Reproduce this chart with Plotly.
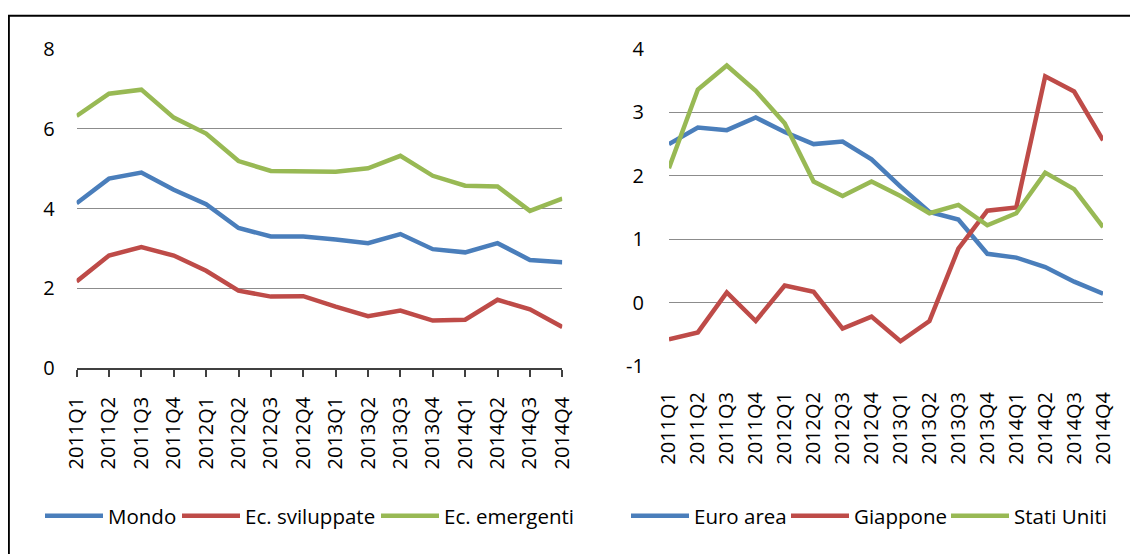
import plotly.graph_objects as go

quarters = ["2011Q1", "2011Q2", "2011Q3", "2011Q4", "2012Q1", "2012Q2", "2012Q3", "2012Q4",
            "2013Q1", "2013Q2", "2013Q3", "2013Q4", "2014Q1", "2014Q2", "2014Q3", "2014Q4"]

# Left panel
mondo = [4.13, 4.75, 4.90, 4.47, 4.11, 3.51, 3.30, 3.30, 3.22, 3.13, 3.36, 2.98, 2.90, 3.13, 2.71, 2.65]
ec_sviluppate = [2.17, 2.82, 3.03, 2.82, 2.44, 1.94, 1.79, 1.80, 1.54, 1.30, 1.44, 1.19, 1.21, 1.71, 1.47, 1.03]
ec_emergenti = [6.32, 6.88, 6.98, 6.28, 5.88, 5.19, 4.94, 4.94, 4.92, 5.01, 5.32, 4.82, 4.57, 4.55, 3.94, 4.25]

# Right panel
euro_area = [2.50, 2.76, 2.72, 2.92, 2.69, 2.50, 2.54, 2.26, 1.83, 1.43, 1.31, 0.77, 0.71, 0.56, 0.33, 0.14]
giappone = [-0.58, -0.47, 0.16, -0.29, 0.27, 0.17, -0.41, -0.22, -0.61, -0.29, 0.85, 1.45, 1.50, 3.57, 3.33, 2.56]
stati_uniti = [2.12, 3.36, 3.74, 3.34, 2.83, 1.91, 1.68, 1.91, 1.68, 1.41, 1.54, 1.22, 1.41, 2.05, 1.79, 1.19]

left_ticks = [0, 2, 4, 6, 8]
right_ticks = [-1, 0, 1, 2, 3, 4]

BLUE = "#4A7EBB"
RED = "#BE4B48"
GREEN = "#98B954"
FONT = "Open Sans"
AX = "#404040"
GRID = "#8C8C8C"

# the page body has an 8px margin: work in page pixels and convert
OFF = 8
W, H = 1138 - OFF, 554 - OFF


def fx(p):
    return (p - OFF) / W


def fy(p):
    return 1 - (p - OFF) / H


fig = go.Figure()

series = [
    (mondo, "Mondo", BLUE, "x", "y", "legend", 47),
    (ec_sviluppate, "Ec. sviluppate", RED, "x", "y", "legend2", 184),
    (ec_emergenti, "Ec. emergenti", GREEN, "x", "y", "legend3", 383),
    (euro_area, "Euro area", BLUE, "x2", "y2", "legend4", 633),
    (giappone, "Giappone", RED, "x2", "y2", "legend5", 793),
    (stati_uniti, "Stati Uniti", GREEN, "x2", "y2", "legend6", 953),
]

legends = {}
for vals, name, color, xa, ya, leg, lx in series:
    fig.add_trace(go.Scatter(x=quarters, y=vals, name=name, mode="lines",
                             line=dict(color=color, width=4.5),
                             xaxis=xa, yaxis=ya, legend=leg))
    legends[leg] = dict(orientation="h", x=fx(lx - 7), xanchor="left", y=fy(516),
                        yanchor="middle", font=dict(family=FONT, size=20.5, color="#000000"),
                        itemwidth=58, bgcolor="rgba(0,0,0,0)", borderwidth=0)

n = len(quarters)
ld = [fx(76.6), fx(562.3)]
rd = [fx(668.9), fx(1103.1)]
lyd = [fy(368), fy(49)]
ryd = [fy(366), fy(49)]
rrange = [min(right_ticks), max(right_ticks)]
zero_pos = ryd[0] + (0 - rrange[0]) / (rrange[1] - rrange[0]) * (ryd[1] - ryd[0])

tickfont = dict(family=FONT, size=20, color="#000000")

common_x = dict(type="category", range=[0, n - 1], tickangle=-90, tickfont=tickfont,
                showgrid=False, zeroline=False, automargin=False)

overlay = dict(type="linear", range=[0, n - 1], tickmode="linear", tick0=0, dtick=1,
               ticklen=7, tickwidth=1.5, tickcolor=AX, showticklabels=False,
               showgrid=False, zeroline=False, automargin=False)

fig.update_layout(
    template="none",
    width=W, height=H,
    margin=dict(l=0, r=0, t=0, b=0, autoexpand=False),
    paper_bgcolor="white", plot_bgcolor="white",
    font=dict(family=FONT, size=20, color="#000000"),
    showlegend=True,
    xaxis=dict(domain=ld, anchor="y", showline=True, linecolor=AX, linewidth=1.5,
               ticks="outside", ticklen=7, tickwidth=1.5, tickcolor=AX,
               ticklabelstandoff=12, **common_x),
    xaxis3=dict(domain=ld, anchor="y", overlaying="x", ticks="inside", showline=False, **overlay),
    yaxis=dict(domain=lyd, anchor="x", range=[min(left_ticks), max(left_ticks)],
               tickvals=left_ticks, ticktext=[str(v) for v in left_ticks],
               showgrid=True, gridcolor=GRID, gridwidth=1,
               zeroline=False, showline=False, ticks="", ticklabelstandoff=21,
               tickfont=tickfont, automargin=False),
    xaxis2=dict(domain=rd, anchor="y2", showline=False, ticks="",
                ticklabelstandoff=21, **common_x),
    xaxis4=dict(domain=rd, anchor="free", position=zero_pos, overlaying="x2", ticks="outside",
                showline=True, linecolor=AX, linewidth=1.5, **overlay),
    xaxis5=dict(domain=rd, anchor="free", position=zero_pos, overlaying="x2", ticks="inside",
                showline=False, **overlay),
    yaxis2=dict(domain=ryd, anchor="x2", range=rrange, tickvals=right_ticks,
                ticktext=[str(v) for v in right_ticks],
                showgrid=True, gridcolor=GRID, gridwidth=1, zeroline=False,
                showline=False, ticks="", ticklabelstandoff=24, tickfont=tickfont,
                automargin=False),
    shapes=[
        dict(type="line", xref="paper", yref="paper", x0=0, x1=1, y0=fy(15.8), y1=fy(15.8),
             line=dict(color="#000000", width=2)),
        dict(type="line", xref="paper", yref="paper", x0=0.6 / W, x1=0.6 / W, y0=0, y1=fy(15),
             line=dict(color="#000000", width=2.5)),
    ],
    **legends,
)

fig.write_html("out.html")
